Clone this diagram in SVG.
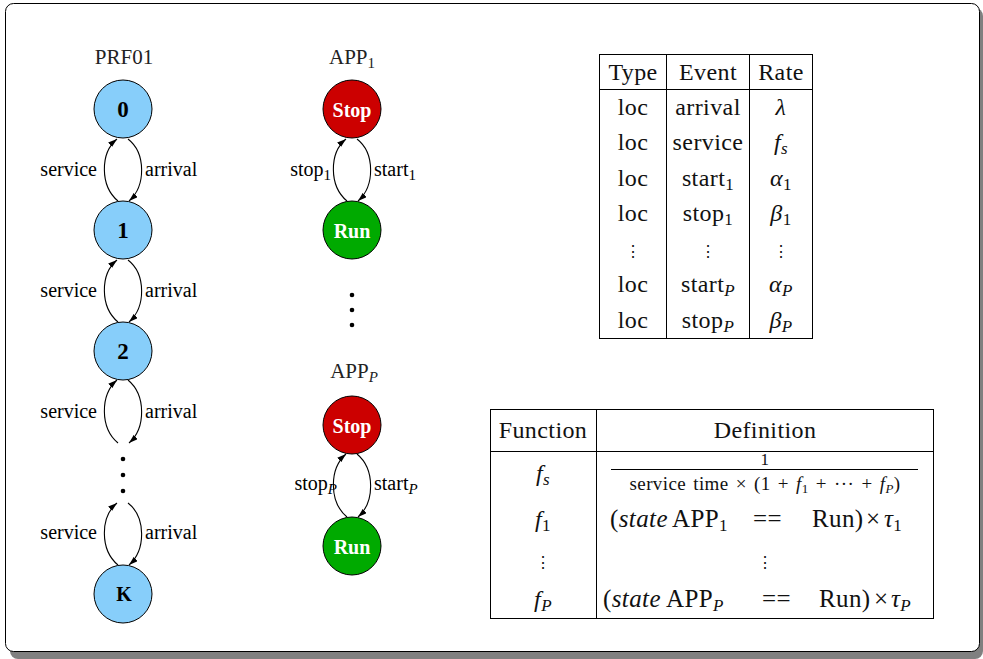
<svg xmlns="http://www.w3.org/2000/svg" width="983" height="659" viewBox="0 0 983 659" font-family="'Liberation Serif','Times New Roman','DejaVu Serif',serif">
<style>
text{font-family:'Liberation Serif','Times New Roman','DejaVu Serif',serif}
.lbl{font-size:20px;fill:#000}
.ttl{font-size:21px;fill:#222}
.cm{font-size:24px;fill:#111;letter-spacing:0.4px}
.row{font-size:25px}
.sub{font-size:15px}
.it{font-style:italic}
.nb{font-weight:bold;fill:#000;text-anchor:middle}
.nw{font-weight:bold;fill:#fff;text-anchor:middle;font-size:20px}
.e{fill:none;stroke:#000;stroke-width:1.1}
.blue{fill:#87CEFA;stroke:#000;stroke-width:1}
.red{fill:#CC0000;stroke:#000;stroke-width:1}
.green{fill:#00AA00;stroke:#000;stroke-width:1}
.tb{fill:none;stroke:#000;stroke-width:1}
</style>
<defs>
<marker id="ah" markerWidth="9" markerHeight="6" refX="9" refY="3" orient="auto" markerUnits="userSpaceOnUse">
<path d="M0,0 L9,3 L0,6 Z" fill="#000"/>
</marker>
</defs>
<rect x="10" y="8" width="973" height="651" rx="8" fill="#808080"/>
<rect x="5.5" y="3.5" width="974" height="648" rx="8" fill="#fff" stroke="#000" stroke-width="1"/>

<g id="connectors">
<path class="e" d="M118,201 C100,186 100,153 117,139" marker-end="url(#ah)"/>
<path class="e" d="M128,139 C146,153 146,186 129,201" marker-end="url(#ah)"/>
<path class="e" d="M118,322 C100,307 100,274 117,260" marker-end="url(#ah)"/>
<path class="e" d="M128,260 C146,274 146,307 129,322" marker-end="url(#ah)"/>
<path class="e" d="M118,443 C100,428 100,395 117,380" marker-end="url(#ah)"/>
<path class="e" d="M128,380 C146,395 146,428 129,443" marker-end="url(#ah)"/>
<path class="e" d="M118,565 C100,550 100,517 117,503" marker-end="url(#ah)"/>
<path class="e" d="M128,503 C146,517 146,550 129,565" marker-end="url(#ah)"/>
<path class="e" d="M347,201 C329,186 329,153 346,139" marker-end="url(#ah)"/>
<path class="e" d="M357,139 C375,153 375,186 358,201" marker-end="url(#ah)"/>
<path class="e" d="M347,517 C329,502 329,469 346,454" marker-end="url(#ah)"/>
<path class="e" d="M357,454 C375,469 375,502 358,517" marker-end="url(#ah)"/>
</g>

<g id="labels">
<text class="lbl" x="97" y="176" text-anchor="end">service</text>
<text class="lbl" x="145" y="176">arrival</text>
<text class="lbl" x="97" y="297" text-anchor="end">service</text>
<text class="lbl" x="145" y="297">arrival</text>
<text class="lbl" x="97" y="418" text-anchor="end">service</text>
<text class="lbl" x="145" y="418">arrival</text>
<text class="lbl" x="97" y="539" text-anchor="end">service</text>
<text class="lbl" x="145" y="539">arrival</text>
<text class="lbl" x="331" y="176" text-anchor="end">stop<tspan class="sub" dy="4">1</tspan></text>
<text class="lbl" x="374" y="176">start<tspan class="sub" dy="4">1</tspan></text>
<text class="lbl" x="337" y="490" text-anchor="end">stop<tspan class="sub it" dy="4">P</tspan></text>
<text class="lbl" x="374" y="490">start<tspan class="sub it" dy="4">P</tspan></text>
</g>

<text class="ttl" x="124" y="64" text-anchor="middle">PRF01</text>
<text class="ttl" x="352" y="64" text-anchor="middle">APP<tspan class="sub" dy="4">1</tspan></text>
<text class="ttl" x="354" y="378" text-anchor="middle">APP<tspan class="sub it" dy="4">P</tspan></text>

<g id="n0"><circle class="blue" cx="123" cy="109" r="29"/><text class="nb" x="123" y="117" font-size="23">0</text></g>
<g id="n1"><circle class="blue" cx="123" cy="230" r="29"/><text class="nb" x="123" y="238" font-size="23">1</text></g>
<g id="n2"><circle class="blue" cx="123" cy="351" r="29"/><text class="nb" x="123" y="359" font-size="23">2</text></g>
<g id="ndots"><circle cx="123" cy="459" r="2.3"/><circle cx="123" cy="475" r="2.3"/><circle cx="123" cy="491" r="2.3"/></g>
<g id="nK"><circle class="blue" cx="123" cy="594" r="29"/><text class="nb" x="124" y="601" font-size="20">K</text></g>

<g id="stop1"><circle class="red" cx="352" cy="109" r="29"/><text class="nw" x="352" y="117">Stop</text></g>
<g id="run1"><circle class="green" cx="352" cy="230" r="29"/><text class="nw" x="352" y="238">Run</text></g>
<g id="appdots"><circle cx="352" cy="295" r="2.3"/><circle cx="352" cy="310" r="2.3"/><circle cx="352" cy="325" r="2.3"/></g>
<g id="stopP"><circle class="red" cx="352" cy="425" r="29"/><text class="nw" x="352" y="433">Stop</text></g>
<g id="runP"><circle class="green" cx="352" cy="546" r="29"/><text class="nw" x="352" y="554">Run</text></g>

<g id="table1">
<rect class="tb" x="599.5" y="54.5" width="213" height="284"/>
<line class="tb" x1="666.5" y1="54" x2="666.5" y2="339"/>
<line class="tb" x1="749.5" y1="54" x2="749.5" y2="339"/>
<line class="tb" x1="599" y1="89.5" x2="813" y2="89.5"/>
<g class="cm" text-anchor="middle">
<text x="633" y="80">Type</text><text x="708" y="80">Event</text><text x="781" y="80">Rate</text>
<text x="633" y="115">loc</text><text x="708" y="115">arrival</text><text x="781" y="115" class="it">λ</text>
<text x="633" y="150">loc</text><text x="708" y="150">service</text><text x="781" y="150"><tspan class="it">f</tspan><tspan class="it" font-size="17" dy="4">s</tspan></text>
<text x="633" y="186">loc</text><text x="708" y="186">start<tspan font-size="17" dy="4">1</tspan></text><text x="781" y="186"><tspan class="it">α</tspan><tspan font-size="17" dy="4">1</tspan></text>
<text x="633" y="221">loc</text><text x="708" y="221">stop<tspan font-size="17" dy="4">1</tspan></text><text x="781" y="221"><tspan class="it">β</tspan><tspan font-size="17" dy="4">1</tspan></text>
<text x="633" y="257" font-size="16">⋮</text><text x="708" y="257" font-size="16">⋮</text><text x="781" y="257" font-size="16">⋮</text>
<text x="633" y="292">loc</text><text x="708" y="292">start<tspan class="it" font-size="17" dy="4">P</tspan></text><text x="781" y="292"><tspan class="it">α</tspan><tspan class="it" font-size="17" dy="4">P</tspan></text>
<text x="633" y="328">loc</text><text x="708" y="328">stop<tspan class="it" font-size="17" dy="4">P</tspan></text><text x="781" y="328"><tspan class="it">β</tspan><tspan class="it" font-size="17" dy="4">P</tspan></text>
</g>
</g>

<g id="table2">
<rect class="tb" x="490.5" y="409.5" width="443" height="209"/>
<line class="tb" x1="596.5" y1="409" x2="596.5" y2="619"/>
<line class="tb" x1="490" y1="451.5" x2="934" y2="451.5"/>
<g class="cm">
<text x="543" y="438" text-anchor="middle">Function</text><text x="765" y="438" text-anchor="middle">Definition</text>
<text x="543" y="481" text-anchor="middle"><tspan class="it">f</tspan><tspan class="it" font-size="17" dy="4">s</tspan></text>
<text x="765" y="465" font-size="17" text-anchor="middle">1</text>
<line x1="611" y1="469.5" x2="918" y2="469.5" stroke="#000" stroke-width="1"/>
<text x="765" y="490" font-size="19" text-anchor="middle" word-spacing="2">service time × (1 + <tspan class="it">f</tspan><tspan font-size="13" dy="3">1</tspan><tspan dy="-3"> + ··· + </tspan><tspan class="it">f</tspan><tspan class="it" font-size="13" dy="3">P</tspan><tspan dy="-3">)</tspan></text>
<text x="543" y="527" text-anchor="middle"><tspan class="it">f</tspan><tspan font-size="17" dy="4">1</tspan></text>
<g class="row">
<text x="610" y="527">(<tspan class="it">state</tspan></text>
<text x="672" y="527">APP<tspan font-size="17" dy="4">1</tspan></text>
<text x="753" y="527">==</text>
<text x="812" y="527">Run)</text>
<text x="866" y="527">×</text>
<text x="884" y="527"><tspan class="it">τ</tspan><tspan font-size="17" dy="4">1</tspan></text>
</g>
<text x="543" y="568" font-size="16" text-anchor="middle">⋮</text><text x="765" y="568" font-size="16" text-anchor="middle">⋮</text>
<text x="543" y="607" text-anchor="middle"><tspan class="it">f</tspan><tspan class="it" font-size="17" dy="4">P</tspan></text>
<g class="row">
<text x="603" y="607">(<tspan class="it">state</tspan></text>
<text x="666" y="607">APP<tspan class="it" font-size="17" dy="4">P</tspan></text>
<text x="762" y="607">==</text>
<text x="819" y="607">Run)</text>
<text x="874" y="607">×</text>
<text x="891" y="607"><tspan class="it">τ</tspan><tspan class="it" font-size="17" dy="4">P</tspan></text>
</g>
</g>
</g>
</svg>
